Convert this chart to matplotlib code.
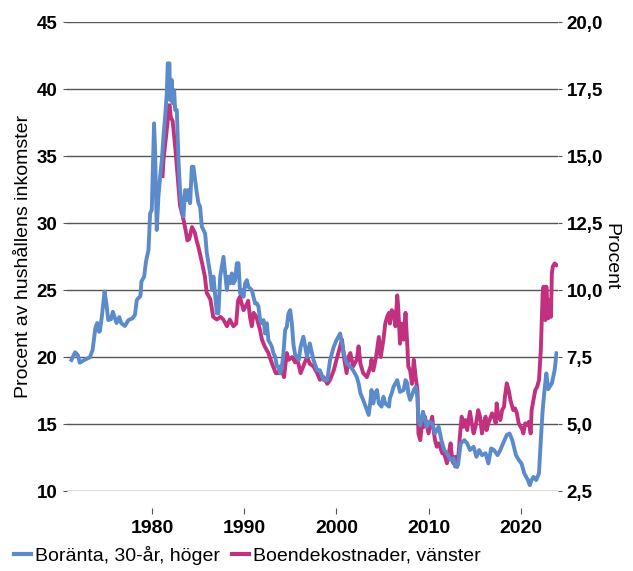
import matplotlib
matplotlib.use("Agg")
import matplotlib.pyplot as plt
from matplotlib.lines import Line2D

plt.rcParams['font.family'] = ['Liberation Sans', 'DejaVu Sans']

# Boränta, 30-år (right axis, percent)
rate_year = [1971.2, 1971.6, 1971.9, 1972.1, 1972.7, 1973.2, 1973.5, 1973.8, 1974.0, 1974.2,
             1974.3, 1974.5, 1974.8, 1975.0, 1975.2, 1975.5, 1975.7, 1976.1, 1976.4, 1976.6,
             1977.0, 1977.4, 1977.8, 1978.1, 1978.3, 1978.7, 1978.8, 1979.1, 1979.3, 1979.57,
             1979.75, 1979.93, 1980.18, 1980.29, 1980.47, 1980.65, 1980.84, 1981.02, 1981.2, 1981.38,
             1981.56, 1981.67, 1981.85, 1981.92, 1982.1, 1982.2, 1982.36, 1982.47, 1982.65, 1982.83,
             1983.0, 1983.2, 1983.37, 1983.55, 1983.74, 1983.9, 1984.1, 1984.28, 1984.46, 1984.64,
             1984.83, 1985.0, 1985.18, 1985.37, 1985.55, 1985.73, 1985.9, 1986.27, 1986.46, 1986.63,
             1986.8, 1987.0, 1987.17, 1987.36, 1987.72, 1987.9, 1988.09, 1988.26, 1988.45, 1988.63,
             1988.8, 1988.99, 1989.17, 1989.35, 1989.53, 1989.72, 1989.9, 1990.08, 1990.26, 1990.43,
             1990.8, 1990.98, 1991.16, 1991.35, 1991.52, 1991.7, 1991.9, 1992.07, 1992.25, 1992.43,
             1992.6, 1992.8, 1992.98, 1993.15, 1993.34, 1993.52, 1993.7, 1993.88, 1994.07, 1994.24,
             1994.42, 1994.6, 1994.78, 1994.97, 1995.15, 1995.33, 1995.5, 1995.9, 1996.1, 1996.4,
             1996.8, 1997.1, 1997.5, 1997.9, 1998.2, 1998.6, 1999.0, 1999.3, 1999.7, 2000.0,
             2000.4, 2000.6, 2000.8, 2001.1, 2001.5, 2001.8, 2002.2, 2002.4, 2002.6, 2002.9,
             2003.3, 2003.5, 2003.7, 2003.8, 2004.0, 2004.2, 2004.4, 2004.6, 2004.9, 2005.1,
             2005.3, 2005.7, 2005.8, 2006.0, 2006.2, 2006.6, 2006.9, 2007.3, 2007.5, 2007.7,
             2007.8, 2008.0, 2008.4, 2008.6, 2008.8, 2008.9, 2009.1, 2009.4, 2009.8, 2010.1,
             2010.4, 2010.7, 2011.1, 2011.4, 2011.7, 2012.0, 2012.4, 2012.7, 2012.9, 2013.2,
             2013.5, 2013.9, 2014.2, 2014.5, 2014.9, 2015.2, 2015.5, 2015.8, 2016.2, 2016.5,
             2016.8, 2017.1, 2017.5, 2017.8, 2018.1, 2018.5, 2018.8, 2019.1, 2019.5, 2019.8,
             2020.1, 2020.4, 2020.8, 2021.0, 2021.2, 2021.4, 2021.7, 2022.0, 2022.2, 2022.4,
             2022.6, 2022.8, 2023.0, 2023.4, 2023.7, 2023.9]
rate_val = [7.39, 7.68, 7.57, 7.29, 7.41, 7.49, 7.76, 8.58, 8.77, 8.44,
            8.47, 9.0, 9.94, 9.5, 8.88, 8.92, 9.19, 8.77, 8.99, 8.77,
            8.66, 8.88, 8.94, 9.07, 9.63, 9.78, 10.31, 10.5, 11.06, 11.49,
            12.86, 12.99, 16.22, 15.22, 12.24, 13.48, 14.23, 14.85, 15.72, 16.47,
            17.34, 18.46, 18.46, 17.09, 17.84, 16.97, 17.46, 16.72, 16.72, 14.85,
            13.73, 12.99, 12.74, 13.73, 13.36, 13.73, 13.24, 14.6, 14.6, 14.1,
            13.61, 13.24, 13.11, 12.36, 12.24, 12.11, 11.4, 10.62, 10.0, 10.5,
            9.88, 9.13, 9.13, 10.5, 11.24, 10.62, 10.0, 10.5, 10.25, 10.62,
            10.25, 10.37, 11.0, 11.0, 9.88, 10.0, 9.75, 10.25, 10.37, 10.12,
            10.0, 9.75, 9.5, 9.5, 9.38, 8.88, 8.76, 8.88, 8.38, 8.76,
            8.13, 8.01, 7.88, 7.64, 7.51, 7.14, 7.14, 6.89, 7.14, 7.64,
            8.51, 8.63, 9.13, 9.25, 8.76, 7.95, 7.6, 7.39, 7.88, 8.26,
            7.51, 8.01, 7.39, 7.01, 7.01, 6.64, 6.64, 7.39, 7.88, 8.13,
            8.38, 8.01, 7.64, 7.26, 7.14, 7.01, 6.76, 6.52, 6.15, 5.9,
            5.52, 5.34, 5.9, 6.27, 5.77, 6.15, 6.27, 5.77, 5.65, 6.02,
            5.77, 5.65, 5.96, 6.15, 6.39, 6.64, 6.2, 6.27, 6.64, 6.52,
            6.15, 5.9, 6.27, 6.39, 6.02, 5.15, 4.95, 5.46, 4.9, 5.09,
            5.03, 4.65, 4.9, 4.4, 4.03, 3.91, 3.66, 3.72, 3.41, 3.47,
            4.28, 4.4, 4.28, 4.03, 4.15, 3.78, 4.03, 3.84, 3.91, 3.53,
            4.09, 4.03, 3.84, 4.03, 4.28, 4.59, 4.65, 4.4, 3.84, 3.66,
            3.53, 3.16, 2.91, 2.72, 2.91, 3.03, 2.91, 3.16, 4.4, 5.52,
            6.27, 6.89, 6.3, 6.52, 7.01, 7.64]

# Boendekostnader (left axis, percent of household income)
cost_year = [1981.1, 1981.2, 1981.85, 1982.0, 1982.2, 1982.5, 1982.8, 1983.0, 1983.3, 1983.6,
             1983.8, 1984.0, 1984.3, 1984.6, 1984.8, 1985.0, 1985.4, 1985.7, 1985.9, 1986.3,
             1986.6, 1987.0, 1987.4, 1987.7, 1988.1, 1988.4, 1988.8, 1989.1, 1989.3, 1989.5,
             1989.9, 1990.3, 1990.4, 1990.6, 1990.8, 1991.0, 1991.3, 1991.7, 1991.9, 1992.2,
             1992.6, 1993.0, 1993.4, 1993.7, 1993.9, 1994.3, 1994.6, 1994.8, 1995.2, 1995.5,
             1995.7, 1996.1, 1996.5, 1996.8, 1997.1, 1997.5, 1997.9, 1998.2, 1998.6, 1999.0,
             1999.3, 1999.7, 2000.0, 2000.4, 2000.6, 2000.8, 2001.1, 2001.3, 2001.5, 2001.8,
             2002.2, 2002.4, 2002.6, 2002.9, 2003.3, 2003.7, 2003.8, 2004.0, 2004.3, 2004.6,
             2004.8, 2005.1, 2005.3, 2005.5, 2005.7, 2005.8, 2006.0, 2006.2, 2006.4, 2006.6,
             2006.7, 2006.9, 2007.1, 2007.3, 2007.5, 2007.7, 2007.8, 2008.0, 2008.2, 2008.4,
             2008.6, 2008.8, 2008.9, 2009.1, 2009.3, 2009.5, 2009.6, 2010.0, 2010.2, 2010.4,
             2010.5, 2010.7, 2010.9, 2011.1, 2011.5, 2011.6, 2012.0, 2012.4, 2012.5, 2012.7,
             2012.9, 2013.1, 2013.3, 2013.4, 2013.6, 2013.8, 2014.0, 2014.2, 2014.3, 2014.5,
             2014.7, 2014.9, 2015.1, 2015.4, 2015.6, 2015.8, 2016.0, 2016.2, 2016.3, 2016.5,
             2016.9, 2017.1, 2017.3, 2017.4, 2017.6, 2017.8, 2018.0, 2018.2, 2018.3, 2018.5,
             2018.7, 2018.9, 2019.1, 2019.2, 2019.4, 2019.6, 2019.8, 2020.0, 2020.2, 2020.3,
             2020.5, 2020.7, 2020.9, 2021.1, 2021.2, 2021.4, 2021.6, 2021.8, 2022.0, 2022.2,
             2022.4, 2022.5, 2022.7, 2022.8, 2023.0, 2023.2, 2023.3, 2023.4, 2023.5, 2023.7,
             2023.9]
cost_val = [33.5, 34.7, 38.8, 37.9, 37.6, 35.5, 33.0, 31.3, 30.5, 29.5,
            28.7, 28.8, 29.7, 29.3, 28.7, 28.2, 27.0, 26.0, 24.8, 24.3,
            23.0, 22.8, 23.0, 22.8, 22.3, 22.8, 22.3, 22.5, 24.2, 24.5,
            23.5, 24.0, 24.2, 23.0, 22.3, 23.3, 23.0, 22.0, 21.3, 20.8,
            20.3, 19.5, 18.8, 18.8, 19.3, 18.5, 20.3, 19.8, 20.0, 19.6,
            20.0, 18.8, 19.5, 20.0, 19.5, 19.3, 18.8, 18.3, 18.5, 18.0,
            18.3, 19.0, 19.8, 20.8, 21.3, 20.0, 18.8, 20.0, 20.3, 19.3,
            19.8, 20.8, 19.5, 18.8, 18.5, 19.3, 19.8, 19.0, 20.0, 21.5,
            20.0, 21.3, 22.5, 23.0, 23.3, 22.5, 23.5, 23.3, 22.3, 24.6,
            23.8, 21.0, 22.5, 21.3, 23.3, 20.8, 19.3, 19.0, 18.0, 19.8,
            18.5, 17.5, 14.3, 13.8, 15.05, 14.8, 15.55, 14.3, 15.05, 15.55,
            14.8, 13.81, 13.31, 13.56, 12.81, 13.06, 12.07, 13.56, 12.81, 12.07,
            12.56, 11.81, 13.06, 14.05, 15.55, 14.8, 15.3, 14.55, 15.05, 15.92,
            15.05, 14.3, 14.8, 16.04, 15.55, 14.3, 15.05, 15.55, 14.55, 15.05,
            15.8, 15.55, 15.05, 16.54, 15.55, 15.3, 16.04, 16.29, 17.04, 18.04,
            17.54, 16.79, 16.29, 16.04, 16.17, 15.8, 15.05, 14.8, 14.55, 14.3,
            15.05, 14.93, 15.17, 14.3, 16.04, 16.79, 17.54, 17.78, 18.28, 20.52,
            24.75, 25.25, 22.76, 25.25, 22.89, 24.25, 23.0, 26.25, 26.74, 26.99,
            26.87]

left_ticks = [10, 15, 20, 25, 30, 35, 40, 45]
right_ticks = [2.5, 5.0, 7.5, 10.0, 12.5, 15.0, 17.5, 20.0]
right_labels = ["2,5", "5,0", "7,5", "10,0", "12,5", "15,0", "17,5", "20,0"]
year_ticks = [1980, 1990, 2000, 2010, 2020]

blue = "#5b8bcb"
pink = "#c1317f"

fig = plt.figure(figsize=(6.33, 5.71), dpi=100)
ax = fig.add_axes([0.106, 0.14, 0.776, 0.8214])
ax2 = ax.twinx()

# spines first: moving a spine resets the ticks
for a in (ax, ax2):
    for s in a.spines.values():
        s.set_visible(False)
ax.spines["bottom"].set_position(("outward", 12))

ax.plot(cost_year, cost_val, color=pink, linewidth=2.8, solid_joinstyle="round", zorder=3)
ax2.plot(rate_year, rate_val, color=blue, linewidth=2.8, solid_joinstyle="round", zorder=3)

ax.set_xlim(1970.73, 2024.1)
ax.set_ylim(10, 45)
ax2.set_ylim(2.5, 20)

ax.set_yticks(left_ticks)
ax.set_yticklabels([str(t) for t in left_ticks], fontweight="bold", fontsize=13.5)
ax2.set_yticks(right_ticks)
ax2.set_yticklabels(right_labels, fontweight="bold", fontsize=13.5)
ax.set_xticks(year_ticks)
ax.set_xticklabels([str(t) for t in year_ticks], fontweight="bold", fontsize=14)

ax.grid(axis="y", color="#555555", linewidth=1.0)
ax.set_axisbelow(True)

ax.tick_params(axis="y", length=3, color="#555555", pad=4)
ax2.tick_params(axis="y", length=3, color="#555555", pad=3)
ax.tick_params(axis="x", length=4, color="#555555", pad=5)

ax.set_ylabel("Procent av hushållens inkomster", fontsize=14, labelpad=3)
ax2.set_ylabel("Procent", fontsize=14, rotation=-90, labelpad=12)

handles = [Line2D([], [], color=blue, linewidth=3),
           Line2D([], [], color=pink, linewidth=3)]
fig.legend(handles, ["Boränta, 30-år, höger", "Boendekostnader, vänster"],
           loc="center left", bbox_to_anchor=(0.022, 0.028), ncol=2, frameon=False,
           fontsize=14, handlelength=0.9, handletextpad=0.2, columnspacing=0.6,
           borderpad=0, borderaxespad=0)

fig.savefig("out.png", dpi=100)
